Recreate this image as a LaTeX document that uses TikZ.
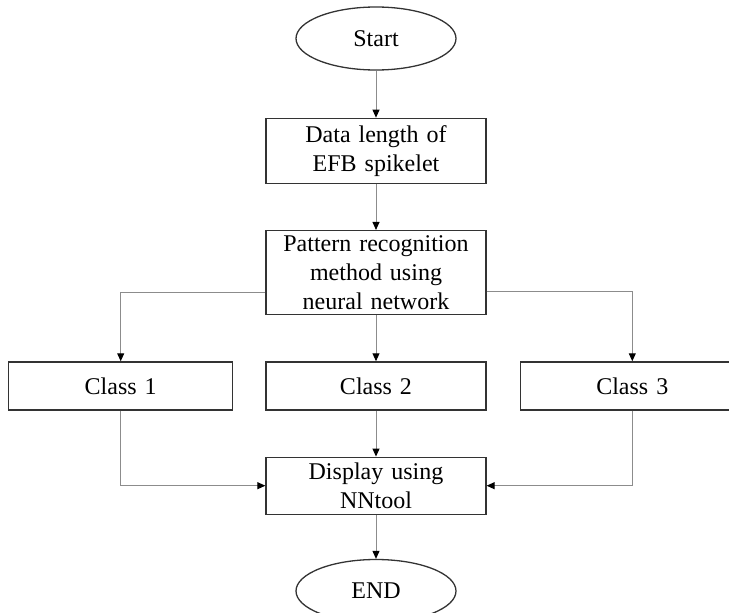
\documentclass[tikz,border=0pt]{standalone}
\usepackage{fontspec}
\setmainfont{Liberation Serif}
\usetikzlibrary{positioning,shapes.geometric,arrows.meta}

\begin{document}
\begin{tikzpicture}[x=1pt, y=1pt, node distance=46pt,
  box/.style={draw=black!80, line width=1.3pt, minimum width=220pt, text width=200pt, align=center, inner ysep=2pt, font=\fontsize{24}{29}\selectfont},
  term/.style={ellipse, draw=black!80, line width=1.3pt, minimum width=160pt, minimum height=63pt, inner sep=0pt, font=\fontsize{24}{29}\selectfont},
  line/.style={draw=black!45, line width=1pt, -{Triangle[length=8pt, width=7pt, color=black]}}]
			\useasboundingbox (0,0) rectangle (729,-613);
			\clip (0,0) rectangle (729,-613);
			
			\node[term] (start) at (376,-38.5) {Start};
			\node[box, minimum height=65pt, below=47pt of start] (data) {Data length of\\EFB spikelet};
			\node[box, minimum height=84pt, below=of data] (pattern) {Pattern recognition\\method using\\neural network};
			\node[box, minimum height=48pt, below=of pattern] (c2) {Class 2};
			\node[box, minimum height=48pt, minimum width=224pt, left=32pt of c2] (c1) {Class 1};
			\node[box, minimum height=48pt, minimum width=224pt, right=33pt of c2] (c3) {Class 3};
			\node[box, minimum height=57pt, below=of c2] (disp) {Display using\\NNtool};
			\node[term, below=44pt of disp] (finish) {END};
			
			\draw[line] (start) -- (data);
			\draw[line] (data) -- (pattern);
			\draw[line] (pattern) -- (c2);
			\draw[line] ([yshift=-20pt]pattern.west) -| (c1);
			\draw[line] ([yshift=-19pt]pattern.east) -| (c3);
			\draw[line] (c2) -- (disp);
			\draw[line] (c1) |- (disp);
			\draw[line] (c3) |- (disp);
			\draw[line] (disp) -- (finish);
		\end{tikzpicture}
\end{document}
